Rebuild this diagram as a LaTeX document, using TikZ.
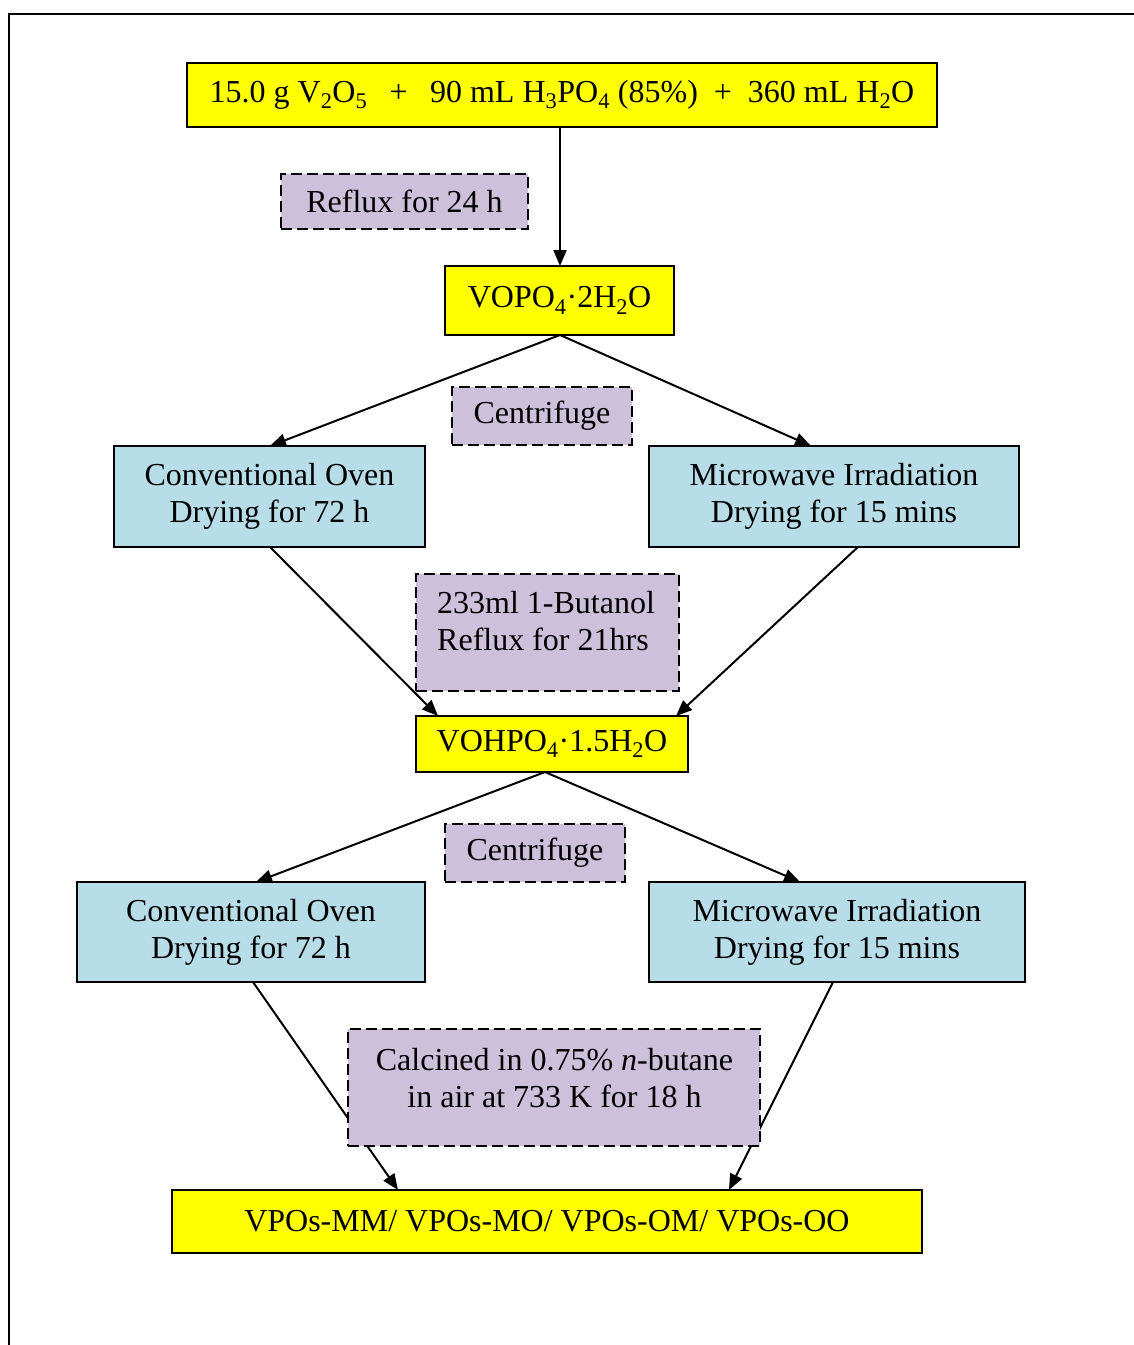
\documentclass[tikz,border=0pt]{standalone}
\usepackage{fontspec}
\setmainfont{Liberation Serif}
\usetikzlibrary{arrows.meta}
\definecolor{prodyellow}{HTML}{FFFF00}
\definecolor{dryblue}{HTML}{B7DDE8}
\definecolor{steplilac}{HTML}{CCC0DA}
\begin{document}
\begin{tikzpicture}[x=1pt,y=-1pt,
  every node/.style={font=\fontsize{32}{37}\selectfont, inner sep=0pt},
  yelbox/.style={draw, line width=2pt, fill=prodyellow},
  bluebox/.style={draw, line width=2pt, fill=dryblue, align=center},
  notebox/.style={draw, line width=2pt, fill=steplilac, dash pattern=on 11pt off 5pt},
  conn/.style={line width=2pt, -{Triangle[length=16pt,width=13pt]}}]
\useasboundingbox (0,0) rectangle (1134,1345);

% page frame
\draw[line width=2.5pt] (9,1345) -- (9,14) -- (1134,14);

% products and intermediates
\node[yelbox, minimum width=750, minimum height=64] (start) at (562,95)
  {15.0 g V\textsubscript{2}O\textsubscript{5}\hspace{0.45em} +\hspace{0.45em} 90 mL H\textsubscript{3}PO\textsubscript{4} (85\%)\hspace{0.25em} +\hspace{0.25em} 360 mL H\textsubscript{2}O};
\node[notebox, minimum width=247, minimum height=55] (reflux) at (404.5,201.5) {Reflux for 24 h};
\node[yelbox, minimum width=229, minimum height=69] (vopo) at (559.5,300.5) {VOPO\textsubscript{4}·2H\textsubscript{2}O};
\node[notebox, minimum width=180, minimum height=58] (cent1) at (542,416) {Centrifuge};
\node[bluebox, minimum width=311, minimum height=101] (oven1) at (269.5,496.5) {Conventional Oven\\Drying for 72 h};
\node[bluebox, minimum width=370, minimum height=101] (mw1) at (834,496.5) {Microwave Irradiation\\Drying for 15 mins};
\node[notebox, minimum width=263, minimum height=117] (butanol) at (547.5,632.5) {};
\node[align=left, anchor=west] (butanoltext) at (437,621) {233ml 1-Butanol\\Reflux for 21hrs};
\node[yelbox, minimum width=272, minimum height=56] (vohpo) at (552,744) {VOHPO\textsubscript{4}·1.5H\textsubscript{2}O};
\node[notebox, minimum width=180, minimum height=58] (cent2) at (535,853) {Centrifuge};
\node[bluebox, minimum width=348, minimum height=100] (oven2) at (251,932) {Conventional Oven\\Drying for 72 h};
\node[bluebox, minimum width=376, minimum height=100] (mw2) at (837,932) {Microwave Irradiation\\Drying for 15 mins};
\node[yelbox, minimum width=750, minimum height=63] (final) at (547,1221.5) {VPOs-MM/ VPOs-MO/ VPOs-OM/ VPOs-OO};

% arrow ends on the box edges
\coordinate (topout) at (560,127);
\coordinate (vpin) at (560,266);
\coordinate (vpout) at (560,335);
\coordinate (o1in) at (270,446);
\coordinate (m1in) at (811,446);
\coordinate (o1out) at (270,547);
\coordinate (m1out) at (858,547);
\coordinate (vhinl) at (438,716);
\coordinate (vhinr) at (676,716);
\coordinate (vhout) at (545,772);
\coordinate (o2in) at (256,882);
\coordinate (m2in) at (800,882);
\coordinate (o2out) at (253,982);
\coordinate (m2out) at (833,982);
\coordinate (fl) at (398,1190);
\coordinate (fr) at (729,1190);

% connectors
\draw[conn] (topout) -- (vpin);
\draw[conn] (vpout) -- (o1in);
\draw[conn] (vpout) -- (m1in);
\draw[conn] (o1out) -- (vhinl);
\draw[conn] (m1out) -- (vhinr);
\draw[conn] (vhout) -- (o2in);
\draw[conn] (vhout) -- (m2in);
\draw[conn] (o2out) -- (fl);
\draw[conn] (m2out) -- (fr);

% calcination step, drawn over the last two connectors
\node[notebox, minimum width=412, minimum height=117] (calc) at (554,1087.5) {};
\node[align=center] (calctext) at (554.5,1078) {Calcined in 0.75\% \textit{n}-butane\\in air at 733 K for 18 h};
\end{tikzpicture}
\end{document}
